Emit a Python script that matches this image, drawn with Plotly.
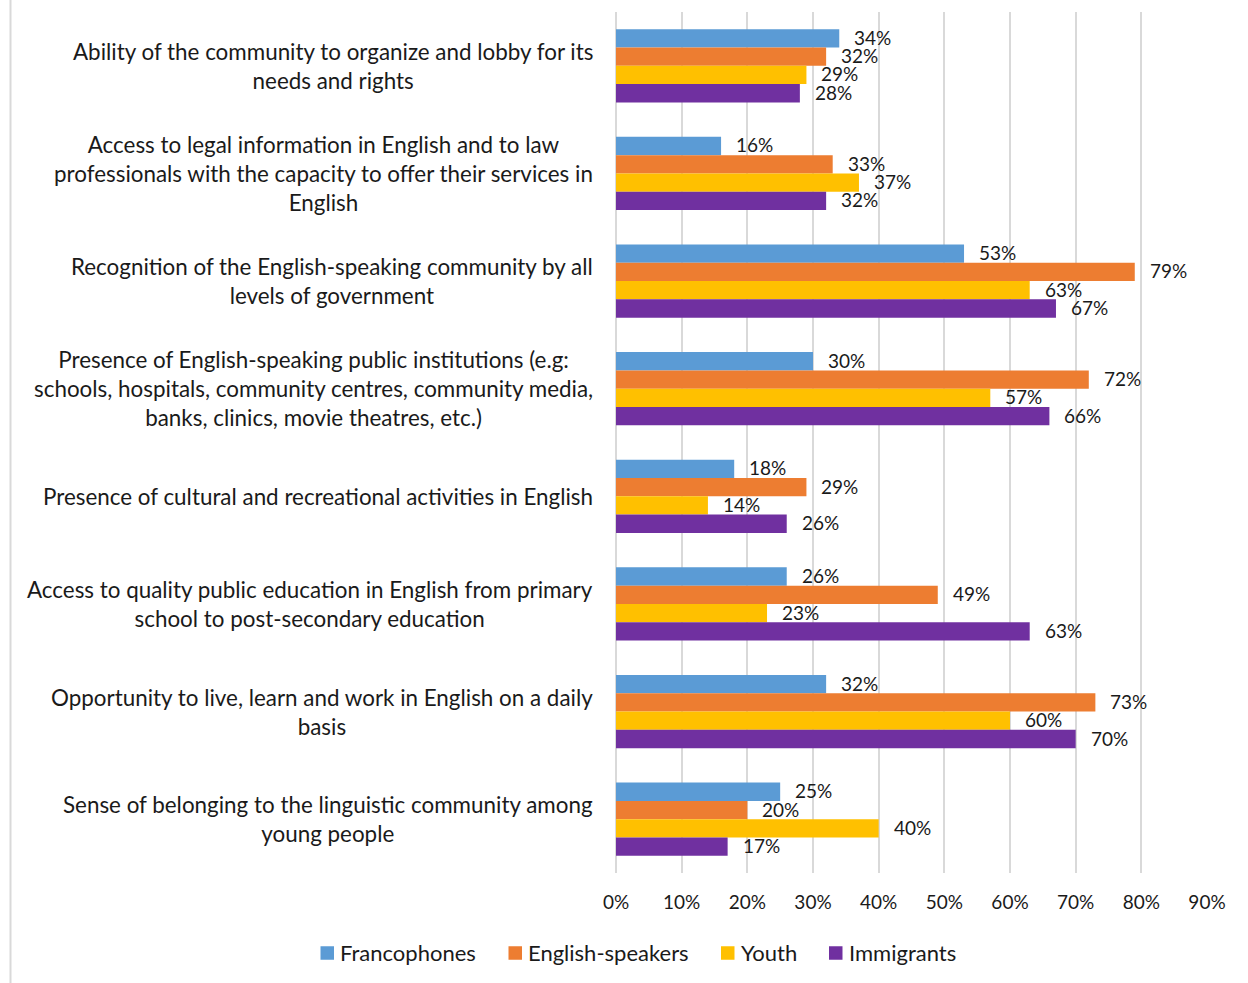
import plotly.graph_objects as go

# Survey items (top to bottom) and share of respondents per group
categories = [
    "Ability of the community to organize and lobby for its<br>needs and rights",
    "Access to legal information in English and to law<br>professionals with the capacity to offer their services in<br>English",
    "Recognition of the English-speaking community by all<br>levels of government",
    "Presence of English-speaking public institutions (e.g:<br>schools, hospitals, community centres, community media,<br>banks, clinics, movie theatres, etc.)",
    "Presence of cultural and recreational activities in English",
    "Access to quality public education in English from primary<br>school to post-secondary education",
    "Opportunity to live, learn and work in English on a daily<br>basis",
    "Sense of belonging to the linguistic community among<br>young people",
]

francophones = [0.34, 0.16, 0.53, 0.30, 0.18, 0.26, 0.32, 0.25]
english_speakers = [0.32, 0.33, 0.79, 0.72, 0.29, 0.49, 0.73, 0.20]
youth = [0.29, 0.37, 0.63, 0.57, 0.14, 0.23, 0.60, 0.40]
immigrants = [0.28, 0.32, 0.67, 0.66, 0.26, 0.63, 0.70, 0.17]

series_names = ["Francophones", "English-speakers", "Youth", "Immigrants"]
series_values = [francophones, english_speakers, youth, immigrants]
series_colors = ["#5B9BD5", "#ED7D31", "#FFC000", "#7030A0"]

x_ticks = [0.0, 0.1, 0.2, 0.3, 0.4, 0.5, 0.6, 0.7, 0.8, 0.9]

FONT = "Lato"
TEXT = "#1a1a1a"
GRID = "#D9D9D9"
BARGAP = 0.32

L, R, T, B = 616, 41, 12, 110
W, H = 1248, 983
plot_w = W - L - R
plot_h = H - T - B


def px_x(px):
    """Horizontal pixel position -> paper coordinate."""
    return (px - L) / plot_w


def px_y(py):
    """Vertical pixel position (from top) -> paper coordinate."""
    return (H - B - py) / plot_h


fig = go.Figure()
cat_idx = list(range(len(categories)))
for name, vals, col in zip(series_names, series_values, series_colors):
    fig.add_trace(go.Bar(
        y=cat_idx, x=vals, name=name, orientation="h",
        marker=dict(color=col, line=dict(width=0)),
        hoverinfo="x+name", showlegend=False,
    ))

annotations = []
shapes = []

# value labels just past the end of each bar
n_series = len(series_names)
bar_w = (1 - BARGAP) / n_series
for s, vals in enumerate(series_values):
    off = -(1 - BARGAP) / 2 + bar_w * (s + 0.5)
    for i, v in enumerate(vals):
        annotations.append(dict(
            x=v, y=i + off, xref="x", yref="y",
            text=f"{round(v * 100)}%", showarrow=False,
            xanchor="left", yanchor="middle", xshift=13, yshift=1,
            font=dict(family=FONT, size=19, color=TEXT),
        ))

# category labels, centred block right-aligned against the plot
for i, label in enumerate(categories):
    lines = label.split("<br>")
    txt = "<br>".join(f"<span style='font-size:22.4px'>{ln}</span>" for ln in lines)
    annotations.append(dict(
        x=0, y=i, xref="x", yref="y", text=txt, showarrow=False,
        xanchor="right", yanchor="middle", align="center", xshift=-21,
        font=dict(family=FONT, size=22.3, color=TEXT),
    ))

# legend row: coloured square + series name
legend_square_left = [320.5, 508.5, 721, 829]
legend_y = 953
sq = 13.5
for name, col, x0 in zip(series_names, series_colors, legend_square_left):
    shapes.append(dict(
        type="rect", xref="paper", yref="paper",
        x0=px_x(x0), x1=px_x(x0 + sq),
        y0=px_y(legend_y + sq / 2), y1=px_y(legend_y - sq / 2),
        fillcolor=col, line=dict(width=0),
    ))
    annotations.append(dict(
        x=px_x(x0 + sq + 4), y=px_y(legend_y), xref="paper", yref="paper",
        text=name, showarrow=False, xanchor="left", yanchor="middle",
        font=dict(family=FONT, size=22, color=TEXT),
    ))

# thin chart-area border on the left
shapes.append(dict(
    type="line", xref="paper", yref="paper",
    x0=px_x(10.5), x1=px_x(10.5), y0=px_y(0), y1=px_y(H),
    line=dict(color=GRID, width=2),
))

fig.update_layout(
    width=W, height=H,
    margin=dict(l=L, r=R, t=T, b=B, pad=0),
    paper_bgcolor="white", plot_bgcolor="white",
    barmode="group", bargap=BARGAP, bargroupgap=0,
    font=dict(family=FONT, size=19, color=TEXT),
    showlegend=False,
    xaxis=dict(
        range=[0, 0.9], tickvals=x_ticks, tickformat=".0%",
        showgrid=True, gridcolor=GRID, gridwidth=1.5,
        zeroline=True, zerolinecolor=GRID, zerolinewidth=1.5,
        showline=False, ticks="", ticklabelstandoff=16,
        tickfont=dict(family=FONT, size=19, color=TEXT),
    ),
    yaxis=dict(
        range=[len(categories) - 0.5, -0.5],
        showticklabels=False, showgrid=False, zeroline=False, ticks="",
    ),
    annotations=annotations,
    shapes=shapes,
)

fig.write_html("out.html")
